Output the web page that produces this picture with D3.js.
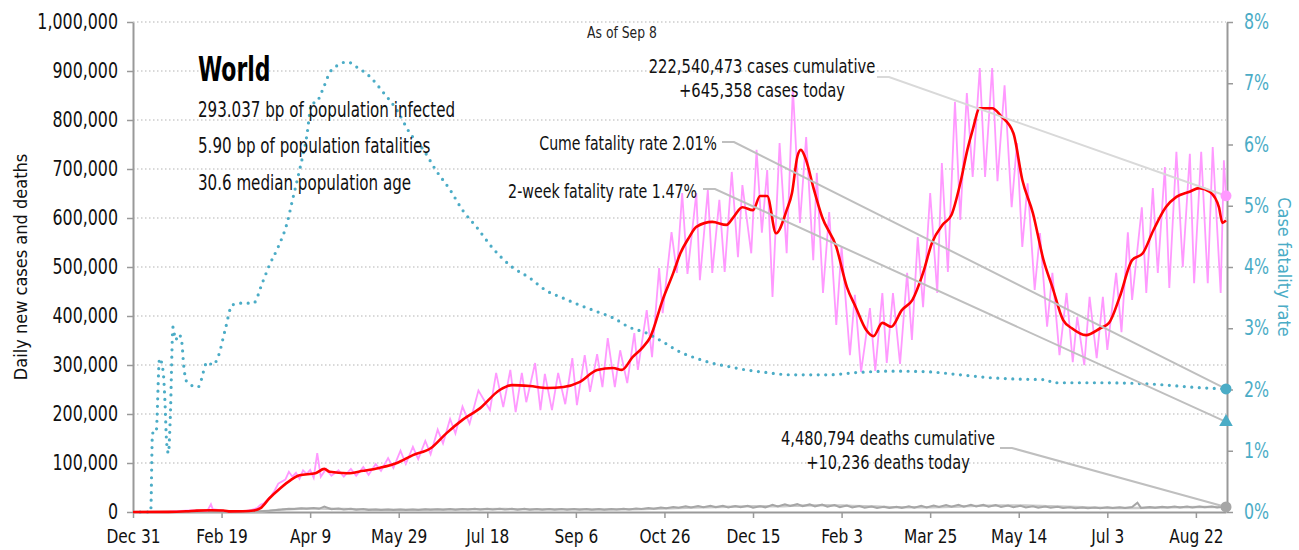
<!DOCTYPE html>
<html>
<head>
<meta charset="utf-8">
<script src="https://cdn.jsdelivr.net/npm/d3@7"></script>
<style>
  body { margin: 0; background: #fff; }
  svg text { font-family: "Liberation Sans Narrow", "DejaVu Sans Condensed", sans-serif; }
</style>
</head>
<body>
<div id="chart"></div>
<script>
(function() {
    'use strict';

    // day 0 = Dec 31 2019
    const startDate = new Date(2019, 11, 31);
    const endDay = 617; // Sep 8 2021
    const tickDays = [0, 50, 100, 150, 200, 250, 300, 350, 400, 450, 500, 550, 600];
    const yTicks = [0, 100000, 200000, 300000, 400000, 500000, 600000, 700000, 800000, 900000, 1000000];
    const rateTicks = [0, 0.01, 0.02, 0.03, 0.04, 0.05, 0.06, 0.07, 0.08];

    // daily new cases [day, cases]
    const casesDaily = [
        [0,0],[12,200],[20,500],[27,2500],[33,3500],[38,3000],[42,2500],[44,16000],[45,6000],[49,4000],
        [52,2000],[56,1500],[60,1800],[64,2500],[67,4500],[70,8000],[72,15000],[74,18000],[76,26000],
        [78,33000],[80,44000],[82,58000],[84,62000],[86,66000],[88,82000],[90,72000],[92,80000],[94,68000],
        [96,85000],[98,78000],[100,86000],[102,70000],[104,120000],[106,72000],[109,88000],[112,74000],
        [116,85000],[119,72000],[123,88000],[126,74000],[130,92000],[133,76000],[137,98000],[140,84000],
        [144,110000],[147,90000],[151,125000],[154,98000],[158,133000],[161,108000],[165,145000],[168,118000],
        [172,168000],[175,140000],[179,190000],[182,160000],[186,215000],[190,180000],[195,248000],
        [201.5,208000],[205,284000],[209,214000],[213,290000],[216,204000],[219.5,284000],[222,224000],
        [227,304000],[230,208000],[232.5,282000],[236.5,208000],[240,284000],[244,220000],[248,314000],
        [250.6,218000],[255,320000],[258,245000],[262,322000],[265,255000],[268,355000],[272,255000],
        [275,330000],[279,263000],[283,365000],[285,290000],[290,412000],[293,316000],[297,498000],
        [299,406000],[304,571000],[307,488000],[310,651000],[313,486000],[318,651000],[320,473000],
        [324.5,657000],[327,488000],[331,637000],[334,490000],[338,694000],[341.5,520000],[344,667000],
        [349,528000],[352,739000],[355,570000],[358,698000],[361,439000],[365,753000],[369,528000],
        [372.5,865000],[376.5,590000],[380,765000],[384,514000],[386,692000],[389.5,447000],[393,612000],
        [397,382000],[400,541000],[404.7,320000],[407.5,443000],[411,286000],[416,416000],[419,288000],
        [423,447000],[425.5,304000],[429,447000],[433,302000],[437,488000],[439.7,351000],[443,561000],
        [446,418000],[450,651000],[454,447000],[456.6,712000],[460,490000],[464,837000],[467,596000],
        [470.7,855000],[474,684000],[478,906000],[481,684000],[485,906000],[488,675000],[492,871000],
        [496,622000],[499,753000],[502,541000],[505,671000],[509,453000],[512,569000],[516,378000],
        [519,488000],[523,320000],[527,447000],[530.5,306000],[533,398000],[537,300000],[540,439000],
        [544,314000],[547.5,439000],[550,331000],[555,488000],[558,367000],[561.6,571000],[564,433000],
        [569.5,622000],[572,447000],[575.7,661000],[578.5,488000],[582.5,704000],[585,457000],[589,735000],
        [592.6,500000],[596.6,731000],[599,467000],[603,735000],[606.7,467000],[609.5,745000],[614,447000],
        [615.8,718000],[617,645358]
    ];

    // 7-day average of new cases [day, cases]
    const casesAvg = [
        [0,0],[20,300],[30,1500],[36,2800],[44,3500],[51,3200],[55,1200],[62,1500],[68,3000],[72,8000],
        [77,28000],[83,48000],[89,65000],[94,75000],[103,79000],[108,88000],[111,82000],[121,79000],
        [130,84000],[139,90000],[149,100000],[158,116000],[168,130000],[177,161000],[186,188000],
        [196,212000],[207,249000],[214,259000],[224,257000],[234,253000],[243,255000],[252,265000],
        [262,290000],[271,294000],[276,290000],[282,316000],[288,337000],[292,357000],[299,433000],
        [305,488000],[309,528000],[314,561000],[318,582000],[327,592000],[335,586000],[339,602000],
        [344,622000],[350,616000],[354,645000],[358,645000],[363,569000],[369,616000],[372,651000],
        [375,725000],[377,739000],[380,718000],[384,663000],[389,602000],[397,541000],[403,459000],
        [408,418000],[414,371000],[418,359000],[423,386000],[428,378000],[434,412000],[440,433000],
        [446,488000],[451,549000],[457,586000],[462,606000],[467,671000],[471,739000],[474,780000],
        [478,824000],[485,824000],[490,808000],[497,773000],[502,678000],[508,610000],[514,514000],
        [519,459000],[525,392000],[530,375000],[538,361000],[546,375000],[551,386000],[557,439000],
        [564,514000],[570,528000],[576,575000],[583,622000],[589,643000],[596,653000],[602,661000],
        [608,653000],[613,622000],[615,590000],[617,595000]
    ];

    // daily deaths [day, deaths]
    const deathsDaily = [
        [0,0],[21,30],[35,90],[49,140],[56,80],[60,250],[63,400],[67,700],[70,1000],[74,1900],[77,2600],
        [81,4300],[84,5000],[88,6600],[91,6000],[95,7800],[98,6400],[102,8200],[105,6500],[108,11000],
        [112,5800],[116,7200],[119,5200],[123,6500],[126,4600],[130,6000],[133,4200],[137,5300],[140,4000],
        [144,5200],[147,3900],[151,5100],[154,3900],[158,5200],[161,4200],[165,5500],[168,4400],[172,5800],
        [175,4600],[179,6000],[182,4700],[186,6200],[189,4900],[193,6500],[196,5000],[200,6600],[203,5100],
        [207,6700],[210,5200],[214,6500],[217,4800],[221,6400],[224,4700],[228,6200],[231,4600],[235,6100],
        [238,4500],[242,6000],[245,4500],[249,6000],[252,4400],[256,6000],[259,4400],[263,6200],[266,4600],
        [270,6300],[273,4900],[277,6500],[280,5200],[284,7300],[287,6000],[291,8300],[294,6900],[298,9300],
        [301,7600],[305,10400],[308,8500],[312,11500],[315,9000],[319,12200],[322,9500],[326,12500],
        [329,9800],[333,12800],[336,9400],[340,12000],[343,9800],[347,12600],[350,8800],[354,11800],
        [357,9500],[361,14500],[364,11500],[368,15500],[371,12200],[375,16000],[378,12000],[382,15500],
        [385,11500],[389,15000],[392,10800],[396,14000],[399,9800],[403,13000],[406,9200],[410,12000],
        [413,8600],[417,11200],[420,8200],[424,10800],[427,8000],[431,10900],[434,8200],[438,11500],
        [441,8800],[445,12500],[448,9500],[452,13200],[455,10200],[459,14000],[462,10800],[466,14500],
        [469,11000],[473,14800],[476,11200],[480,14500],[483,10800],[487,14000],[490,10200],[494,13200],
        [497,9800],[501,12500],[504,9200],[508,11800],[511,8800],[515,11000],[518,8500],[522,10500],
        [525,8000],[529,9600],[532,7700],[536,9000],[539,7600],[543,9300],[546,7800],[550,9600],[553,8000],
        [557,9800],[560,8100],[564,10000],[567,19000],[569,8300],[574,10200],[577,8600],[581,10800],
        [584,9000],[588,11000],[591,9200],[595,11000],[598,9300],[602,11200],[605,9500],[609,11000],
        [612,9400],[615,10800],[617,10236]
    ];

    // 7-day average of deaths [day, deaths]
    const deathsAvg = [
        [0,0],[20,50],[40,100],[50,100],[60,300],[70,900],[77,2500],[84,5000],[91,6300],[98,7000],
        [105,7200],[112,6600],[119,6000],[126,5400],[140,4700],[154,4500],[168,5000],[182,5300],[196,5700],
        [210,5900],[224,5600],[238,5500],[252,5400],[266,5300],[280,5500],[294,6500],[308,8000],[322,9500],
        [336,10800],[350,11500],[364,11500],[378,13500],[392,14000],[406,12500],[420,11000],[434,9500],
        [448,9500],[462,10500],[476,12500],[490,13500],[504,13500],[518,11500],[532,10000],[546,8500],
        [560,8000],[574,8500],[588,9500],[602,10000],[617,10000]
    ];

    // case fatality rate [day, rate]
    const fatalityRate = [
        [4,0],[10,0],[11,0.0129],[13,0.0129],[15,0.0251],[17,0.0230],[18,0.0183],[19,0.0113],[20,0.0096],
        [21,0.0150],[22.6,0.0302],[24,0.0281],[26,0.0290],[27.6,0.0276],[28.5,0.0243],[30.5,0.0212],
        [36.7,0.0204],[42,0.0245],[45,0.0240],[48,0.0253],[52,0.0297],[56,0.0338],[62,0.0341],[68,0.0341],
        [73,0.0374],[77,0.0403],[82,0.0433],[87,0.0472],[90,0.0509],[94,0.0558],[98,0.0612],[101,0.0668],
        [103,0.0668],[107,0.0689],[111,0.0717],[116,0.0730],[121,0.0735],[126,0.0727],[134,0.0710],
        [141,0.0686],[149,0.0656],[156,0.0620],[164,0.0591],[171,0.0558],[179,0.0526],[186,0.0493],
        [194,0.0465],[203,0.0431],[214,0.0400],[224,0.0382],[233,0.0362],[243,0.0349],[252,0.0338],
        [262,0.0327],[271,0.0317],[280,0.0302],[290,0.0292],[299,0.0278],[309,0.0261],[318,0.0251],
        [327,0.0243],[337,0.0237],[346,0.0232],[354,0.0229],[372,0.0224],[392,0.0224],[410,0.0228],
        [429,0.0230],[448,0.0229],[467,0.0224],[485,0.0219],[500,0.0217],[516,0.0216],[519,0.0211],
        [546,0.0211],[574,0.0209],[602,0.0203],[617,0.0201]
    ];

    const twoWeekRate = 0.0147;

    const infoLines = [
        "293.037 bp of population infected",
        "5.90 bp of population fatalities",
        "30.6 median population age"
    ];

    const width = 1299;
    const height = 550;
    const marginTop = 22;
    const marginRight = 73;
    const marginBottom = 38;
    const marginLeft = 133;

    const teal = "#4bacc6";
    const dayToDate = d => new Date(startDate.getTime() + d * 864e5);

    // the reference font is a narrow one, so squeeze the glyphs sideways
    function squeeze(sel, k, origin) {
        sel.style("transform-box", "fill-box")
            .style("transform-origin", origin)
            .style("transform", `scaleX(${k})`);
    }

    const svg = d3.select("#chart")
        .append("svg")
        .attr("width", width)
        .attr("height", height);

    // SCALES
    const x = d3.scaleTime()
        .domain([startDate, dayToDate(endDay)])
        .range([marginLeft, width - marginRight]);

    const y = d3.scaleLinear()
        .domain([0, 1000000])
        .range([height - marginBottom, marginTop]);

    const yRate = d3.scaleLinear()
        .domain([0, 0.08])
        .range([height - marginBottom, marginTop]);

    // GRID
    svg.append("g")
        .selectAll("line")
        .data(yTicks.slice(1))
        .join("line")
        .attr("x1", marginLeft)
        .attr("x2", width - marginRight)
        .attr("y1", d => y(d))
        .attr("y2", d => y(d))
        .attr("stroke", "#b3b3b3")
        .attr("stroke-width", 1.2)
        .attr("stroke-dasharray", "1.5 2.5");

    // X AXIS
    svg.append("g")
        .attr("transform", `translate(0, ${height - marginBottom})`)
        .call(d3.axisBottom(x)
            .tickValues(tickDays.map(dayToDate))
            .tickFormat(d3.timeFormat("%b %-d"))
            .tickSize(6)
            .tickSizeOuter(0))
        .call(g => g.select(".domain").attr("stroke", "#999").attr("stroke-width", 2))
        .call(g => g.selectAll(".tick line").attr("stroke", "#999").attr("stroke-width", 1.5))
        .selectAll("text")
        .attr("dy", "1.15em")
        .attr("fill", "#111")
        .attr("font-size", "19px")
        .call(squeeze, 0.9, "center");

    // LEFT AXIS
    svg.append("g")
        .attr("transform", `translate(${marginLeft}, 0)`)
        .call(d3.axisLeft(y)
            .tickValues(yTicks)
            .tickFormat(d3.format(","))
            .tickSize(6)
            .tickSizeOuter(0))
        .call(g => g.select(".domain").attr("stroke", "#999").attr("stroke-width", 2))
        .call(g => g.selectAll(".tick line").attr("stroke", "#999").attr("stroke-width", 1.5))
        .selectAll("text")
        .attr("x", -15)
        .attr("fill", "#111")
        .attr("font-size", "21px")
        .call(squeeze, 0.84, "right");

    // RIGHT AXIS
    svg.append("g")
        .attr("transform", `translate(${width - marginRight + 1}, 0)`)
        .call(d3.axisRight(yRate)
            .tickValues(rateTicks)
            .tickFormat(d3.format(".0%"))
            .tickSize(6)
            .tickSizeOuter(0))
        .call(g => g.select(".domain").attr("stroke", "#999").attr("stroke-width", 2))
        .call(g => g.selectAll(".tick line").attr("stroke", "#999").attr("stroke-width", 1.5))
        .selectAll("text")
        .attr("x", 17)
        .attr("fill", teal)
        .attr("font-size", "21px")
        .call(squeeze, 0.84, "left");

    // AXIS TITLES
    svg.append("text")
        .attr("transform", `translate(27, ${(marginTop + height - marginBottom) / 2}) rotate(-90)`)
        .attr("text-anchor", "middle")
        .attr("font-size", "18px")
        .attr("fill", "#111")
        .text("Daily new cases and deaths");

    svg.append("text")
        .attr("transform", `translate(1278, ${(marginTop + height - marginBottom) / 2}) rotate(90)`)
        .attr("text-anchor", "middle")
        .attr("font-size", "18px")
        .attr("fill", teal)
        .text("Case fatality rate");

    // LINES
    const caseLine = d3.line()
        .x(d => x(dayToDate(d[0])))
        .y(d => y(d[1]));

    const rateLine = d3.line()
        .x(d => x(dayToDate(d[0])))
        .y(d => yRate(d[1]));

    svg.append("path")
        .datum(deathsAvg)
        .attr("fill", "none")
        .attr("stroke", "#cccccc")
        .attr("stroke-width", 2.5)
        .attr("d", caseLine.curve(d3.curveMonotoneX));

    svg.append("path")
        .datum(deathsDaily)
        .attr("fill", "none")
        .attr("stroke", "#a6a6a6")
        .attr("stroke-width", 2)
        .attr("d", caseLine.curve(d3.curveLinear));

    svg.append("path")
        .datum(casesDaily)
        .attr("fill", "none")
        .attr("stroke", "#ff99ff")
        .attr("stroke-width", 1.8)
        .attr("d", caseLine.curve(d3.curveLinear));

    svg.append("path")
        .datum(fatalityRate)
        .attr("fill", "none")
        .attr("stroke", teal)
        .attr("stroke-width", 3.2)
        .attr("stroke-linecap", "round")
        .attr("stroke-dasharray", "0 7.5")
        .attr("d", rateLine.curve(d3.curveMonotoneX));

    svg.append("path")
        .datum(casesAvg)
        .attr("fill", "none")
        .attr("stroke", "#ff0000")
        .attr("stroke-width", 2.6)
        .attr("stroke-linejoin", "round")
        .attr("d", caseLine.curve(d3.curveMonotoneX));

    // END MARKERS + LEADERS
    const lastCases = casesDaily[casesDaily.length - 1];
    const lastDeaths = deathsDaily[deathsDaily.length - 1];
    const lastRate = fatalityRate[fatalityRate.length - 1];
    const xEnd = x(dayToDate(endDay));

    const leaders = [
        { from: [877, 77], to: [xEnd, y(lastCases[1])], color: "#d9d9d9" },
        { from: [722, 142], to: [xEnd, yRate(lastRate[1])], color: "#bfbfbf" },
        { from: [703, 189], to: [xEnd, yRate(twoWeekRate)], color: "#bfbfbf" },
        { from: [1000, 448], to: [xEnd, y(lastDeaths[1])], color: "#bfbfbf" }
    ];

    svg.append("g")
        .selectAll("path")
        .data(leaders)
        .join("path")
        .attr("fill", "none")
        .attr("stroke", d => d.color)
        .attr("stroke-width", 2)
        .attr("d", d => `M${d.from[0]},${d.from[1]}H${d.from[0] + 12}L${d.to[0]},${d.to[1]}`);

    svg.append("circle")
        .attr("cx", xEnd).attr("cy", y(lastCases[1])).attr("r", 5.5).attr("fill", "#ff99ff");
    svg.append("circle")
        .attr("cx", xEnd).attr("cy", yRate(lastRate[1])).attr("r", 5.5).attr("fill", teal);
    svg.append("path")
        .attr("transform", `translate(${xEnd}, ${yRate(twoWeekRate)})`)
        .attr("d", d3.symbol(d3.symbolTriangle, 80))
        .attr("fill", teal);
    svg.append("circle")
        .attr("cx", xEnd).attr("cy", y(lastDeaths[1])).attr("r", 5.5).attr("fill", "#a6a6a6");

    // TEXT
    svg.append("text")
        .attr("x", 622).attr("y", 38)
        .attr("text-anchor", "middle")
        .attr("font-size", "16px")
        .attr("fill", "#222")
        .text("As of Sep 8")
        .call(squeeze, 0.86, "center");

    svg.append("text")
        .attr("x", 198).attr("y", 81)
        .attr("font-size", "33px")
        .attr("font-weight", "bold")
        .attr("fill", "#000")
        .text("World")
        .call(squeeze, 0.74, "left");

    svg.append("g")
        .selectAll("text")
        .data(infoLines)
        .join("text")
        .attr("x", 198)
        .attr("y", (d, i) => 117 + i * 36.5)
        .attr("font-size", "21px")
        .attr("fill", "#111")
        .text(d => d)
        .call(squeeze, 0.8, "left");

    const notes = [
        { x: 762, y: 73, anchor: "middle", k: 0.82, text: "222,540,473 cases cumulative" },
        { x: 762, y: 97, anchor: "middle", k: 0.82, text: "+645,358 cases today" },
        { x: 717, y: 150, anchor: "end", k: 0.785, text: "Cume fatality rate 2.01%" },
        { x: 697, y: 198, anchor: "end", k: 0.79, text: "2-week fatality rate 1.47%" },
        { x: 888, y: 445, anchor: "middle", k: 0.81, text: "4,480,794 deaths cumulative" },
        { x: 888, y: 469, anchor: "middle", k: 0.81, text: "+10,236 deaths today" }
    ];

    const originFor = { start: "left", middle: "center", end: "right" };

    svg.append("g")
        .selectAll("text")
        .data(notes)
        .join("text")
        .attr("x", d => d.x)
        .attr("y", d => d.y)
        .attr("text-anchor", d => d.anchor)
        .attr("font-size", "20px")
        .attr("fill", "#111")
        .text(d => d.text)
        .each(function(d) { squeeze(d3.select(this), d.k, originFor[d.anchor]); });

})();
</script>
</body>
</html>
